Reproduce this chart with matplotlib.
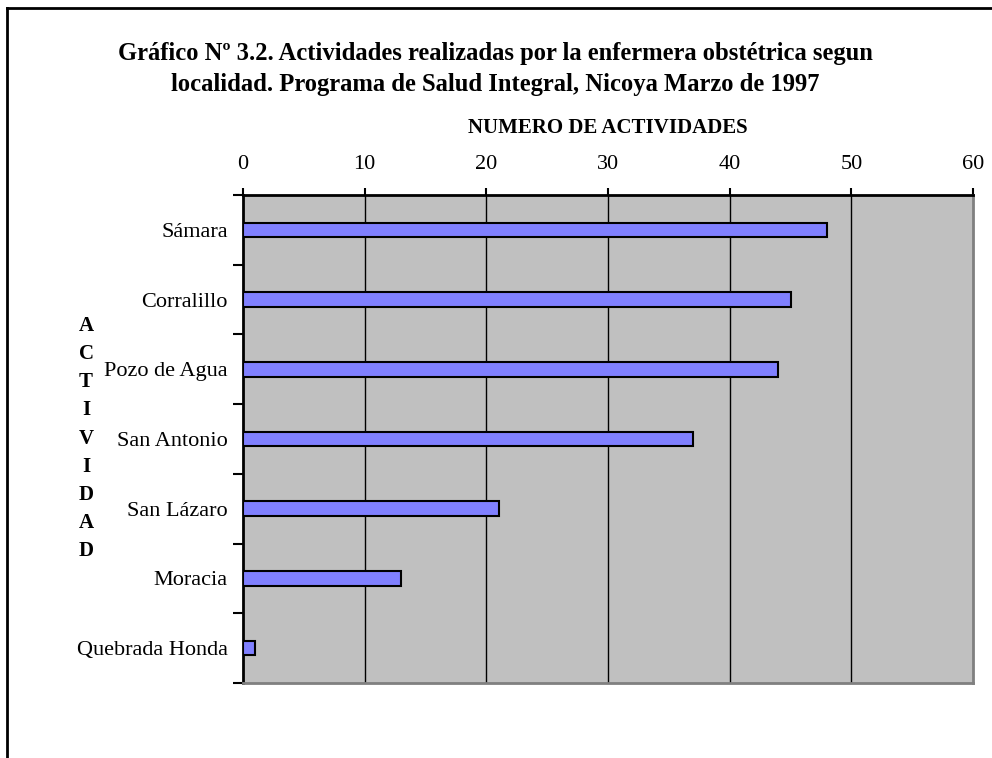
import matplotlib
matplotlib.use("Agg")
import matplotlib.pyplot as plt
import numpy as np
from matplotlib.lines import Line2D

categories = ["Sámara", "Corralillo", "Pozo de Agua", "San Antonio", "San Lázaro", "Moracia", "Quebrada Honda"]
values = [48, 45, 44, 37, 21, 13, 1]
xticks = [0, 10, 20, 30, 40, 50, 60]
title = "Gráfico Nº 3.2. Actividades realizadas por la enfermera obstétrica segun\nlocalidad. Programa de Salud Integral, Nicoya Marzo de 1997"
xlabel = "NUMERO DE ACTIVIDADES"
ylabel_letters = list("ACTIVIDAD")

plt.rcParams['font.family'] = ['Liberation Serif', 'DejaVu Serif']

fig = plt.figure(figsize=(9.92, 7.58), dpi=100)
W, H = 992, 758
ax = fig.add_axes([243 / W, (H - 683) / H, 730 / W, 488 / H])
ax.set_facecolor('#C0C0C0')

y = np.arange(len(categories))
ax.barh(y, values, height=0.21, color='#8080FF', edgecolor='black', linewidth=1.5, zorder=3)
ax.set_ylim(len(categories) - 0.5, -0.5)
ax.set_xlim(0, 60)

ax.xaxis.tick_top()
ax.set_xticks(xticks)
ax.set_xticklabels([str(t) for t in xticks], fontsize=16)
ax.tick_params(axis='x', which='major', direction='out', length=5, width=1.5, pad=10, colors='black')
for t in xticks[1:-1]:
    ax.axvline(t, color='black', linewidth=1.0, zorder=2)

ax.set_yticks(y)
ax.set_yticklabels(categories, fontsize=16)
ax.tick_params(axis='y', which='major', length=0, pad=11)
ax.set_yticks(np.arange(len(categories) + 1) - 0.5, minor=True)
ax.tick_params(axis='y', which='minor', direction='out', length=7, width=1.5, colors='black')

ax.spines['top'].set_color('black')
ax.spines['top'].set_linewidth(2)
ax.spines['left'].set_color('black')
ax.spines['left'].set_linewidth(2)
ax.spines['right'].set_color('#808080')
ax.spines['right'].set_linewidth(2)
ax.spines['bottom'].set_color('#808080')
ax.spines['bottom'].set_linewidth(2)

fig.text(495 / W, 1 - 69 / H, title, ha='center', va='center', fontsize=17.7,
         fontweight='bold', linespacing=1.49)
fig.text(608 / W, 1 - 128 / H, xlabel, ha='center', va='center', fontsize=15, fontweight='bold')

y0, y1 = 326, 551
for i, ch in enumerate(ylabel_letters):
    yy = y0 + (y1 - y0) * i / (len(ylabel_letters) - 1)
    fig.text(86 / W, 1 - yy / H, ch, ha='center', va='center', fontsize=15, fontweight='bold')

# outer frame (top and left edges)
fig.add_artist(Line2D([7 / W, 1.0], [1 - 8 / H, 1 - 8 / H], color='black', linewidth=2, transform=fig.transFigure))
fig.add_artist(Line2D([7 / W, 7 / W], [0.0, 1 - 8 / H], color='black', linewidth=2, transform=fig.transFigure))

fig.savefig('out.png', dpi=100)
